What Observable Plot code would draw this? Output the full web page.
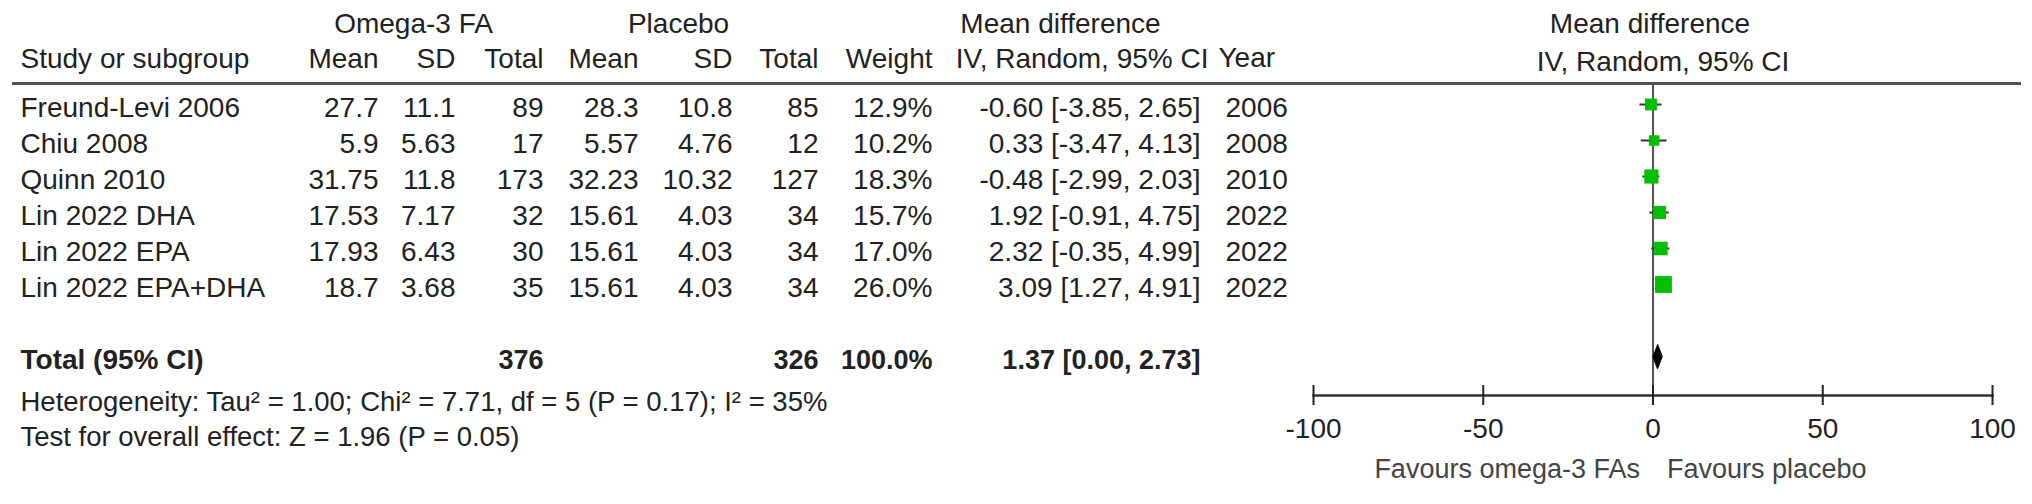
<!DOCTYPE html>
<html>
<head>
<meta charset="utf-8">
<script src="https://cdn.jsdelivr.net/npm/d3@7"></script>
<script src="https://cdn.jsdelivr.net/npm/@observablehq/plot@0.6"></script>
<style>
  html, body { margin: 0; padding: 0; background: #fff; }
  #chart { width: 2032px; height: 504px; }
</style>
</head>
<body>
<div id="chart"></div>
<script>
// ---------------- data ----------------
const studies      = ["Freund-Levi 2006", "Chiu 2008", "Quinn 2010", "Lin 2022 DHA", "Lin 2022 EPA", "Lin 2022 EPA+DHA"];
const years        = [2006, 2008, 2010, 2022, 2022, 2022];
const omegaMean    = [27.7, 5.9, 31.75, 17.53, 17.93, 18.7];
const omegaSD      = [11.1, 5.63, 11.8, 7.17, 6.43, 3.68];
const omegaN       = [89, 17, 173, 32, 30, 35];
const placeboMean  = [28.3, 5.57, 32.23, 15.61, 15.61, 15.61];
const placeboSD    = [10.8, 4.76, 10.32, 4.03, 4.03, 4.03];
const placeboN     = [85, 12, 127, 34, 34, 34];
const weights      = [12.9, 10.2, 18.3, 15.7, 17.0, 26.0];
const meanDiff     = [-0.60, 0.33, -0.48, 1.92, 2.32, 3.09];
const ciLow        = [-3.85, -3.47, -2.99, -0.91, -0.35, 1.27];
const ciHigh       = [2.65, 4.13, 2.03, 4.75, 4.99, 4.91];

const totalLabel   = "Total (95% CI)";
const totalOmegaN  = 376;
const totalPlaceboN = 326;
const totalWeight  = 100.0;
const totalMD      = 1.37;
const totalLow     = 0.00;
const totalHigh    = 2.73;

const xTicks = [-100, -50, 0, 50, 100];

const groupHeaders = ["Omega-3 FA", "Placebo", "Mean difference"];
const colHeaders = ["Study or subgroup", "Mean", "SD", "Total", "Mean", "SD", "Total", "Weight", "IV, Random, 95% CI", "Year"];
const plotHeaders = ["Mean difference", "IV, Random, 95% CI"];
const heterogeneityText = "Heterogeneity: Tau² = 1.00; Chi² = 7.71, df = 5 (P = 0.17); I² = 35%";
const overallText = "Test for overall effect: Z = 1.96 (P = 0.05)";
const favoursLeft = "Favours omega-3 FAs";
const favoursRight = "Favours placebo";

// ---------------- tables built from the arrays ----------------
const fmtCI = (m, lo, hi) => `${m.toFixed(2)} [${lo.toFixed(2)}, ${hi.toFixed(2)}]`;
const rows = studies.map((s, i) => ({
  study: s,
  year: String(years[i]),
  m1: String(omegaMean[i]), sd1: String(omegaSD[i]), n1: String(omegaN[i]),
  m2: String(placeboMean[i]), sd2: String(placeboSD[i]), n2: String(placeboN[i]),
  w: weights[i], wText: weights[i].toFixed(1) + "%",
  md: meanDiff[i], lo: ciLow[i], hi: ciHigh[i],
  ci: fmtCI(meanDiff[i], ciLow[i], ciHigh[i])
}));
const totalRow = [{
  study: totalLabel, n1: String(totalOmegaN), n2: String(totalPlaceboN),
  wText: totalWeight.toFixed(1) + "%", ci: fmtCI(totalMD, totalLow, totalHigh)
}];
const diamondPts = [totalLow, totalMD, totalHigh].map(v => ({study: totalLabel, x: v}));
const yDomain = [...studies, "", totalLabel];

// ---------------- layout (pixels) ----------------
const W = 2032, H = 504;
const ML = 13, MR = 13, MT = 83, MB = 109;
const FONT = "'Liberation Sans', Arial, Helvetica, sans-serif";
const INK = "#222";
const FS = 28;
const col = {name: 20, m1: 378, sd1: 455, n1: 543, m2: 638, sd2: 732, n2: 818, w: 932, ci: 1200, year: 1225};
const hdr = {name: 20, m1: 378, sd1: 455, n1: 543, m2: 638, sd2: 732, n2: 818, w: 932, ci: 1208, year: 1218};
const grp = [413, 678, 1060];
const xRange = [1313, 1992];
const markDy = -4;
const ROW1 = -59, ROW2 = -24;

// custom curve: draws a diamond through (low, est, high)
function diamondCurve(h) {
  return (context) => {
    let pts = [];
    return {
      areaStart() {}, areaEnd() {},
      lineStart() { pts = []; },
      point(x, y) { pts.push([+x, +y]); },
      lineEnd() {
        if (pts.length < 3) return;
        const [x0, y0] = pts[0], [xm] = pts[1], [x1] = pts[pts.length - 1];
        context.moveTo(x0, y0);
        context.lineTo(xm, y0 - h);
        context.lineTo(x1, y0);
        context.lineTo(xm, y0 + h);
        context.closePath();
      }
    };
  };
}

const colText = (data, field, right, extra = {}) =>
  Plot.text(data, {y: "study", text: field, frameAnchor: "left", lineAnchor: "middle", dx: right - ML, textAnchor: "end", fill: INK, fontSize: FS, ...extra});

const headerText = (label, pos, dy, anchor) =>
  Plot.text([label], {text: d => d, frameAnchor: "top-left", lineAnchor: "middle", dx: pos - ML, dy, textAnchor: anchor, fill: INK, fontSize: FS});

const marks = [
  // header line and zero line
  Plot.frame({anchor: "top", stroke: "#505050", strokeWidth: 3}),
  Plot.ruleX([0], {stroke: "#555", strokeWidth: 2}),
  // axis line + ticks + labels
  Plot.frame({anchor: "bottom", insetLeft: xRange[0] - ML, insetRight: (W - MR) - xRange[1], stroke: "#333", strokeWidth: 2.5}),
  Plot.axisX(xTicks, {anchor: "bottom", tickSize: 20, dy: -10, tickPadding: 13, label: null,
    tickFormat: d => String(d), color: INK, strokeWidth: 2, fontSize: FS}),

  // group headers
  headerText(groupHeaders[0], grp[0], ROW1, "middle"),
  headerText(groupHeaders[1], grp[1], ROW1, "middle"),
  headerText(groupHeaders[2], grp[2], ROW1, "middle"),
  // column headers
  headerText(colHeaders[0], hdr.name, ROW2, "start"),
  headerText(colHeaders[1], hdr.m1, ROW2, "end"),
  headerText(colHeaders[2], hdr.sd1, ROW2, "end"),
  headerText(colHeaders[3], hdr.n1, ROW2, "end"),
  headerText(colHeaders[4], hdr.m2, ROW2, "end"),
  headerText(colHeaders[5], hdr.sd2, ROW2, "end"),
  headerText(colHeaders[6], hdr.n2, ROW2, "end"),
  headerText(colHeaders[7], hdr.w, ROW2, "end"),
  headerText(colHeaders[8], hdr.ci, ROW2, "end"),
  headerText(colHeaders[9], hdr.year, ROW2 - 1, "start"),
  // plot headers (centred on the null line)
  Plot.text([plotHeaders[0]], {text: d => d, x: () => 0, frameAnchor: "top", lineAnchor: "middle", dx: -3, dy: ROW1, textAnchor: "middle", fill: INK, fontSize: FS}),
  Plot.text([plotHeaders[1]], {text: d => d, x: () => 0, frameAnchor: "top", lineAnchor: "middle", dx: 10, dy: ROW2 + 3, textAnchor: "middle", fill: INK, fontSize: FS}),

  // study rows
  colText(rows, "study", col.name, {textAnchor: "start"}),
  colText(rows, "m1", col.m1),
  colText(rows, "sd1", col.sd1),
  colText(rows, "n1", col.n1),
  colText(rows, "m2", col.m2),
  colText(rows, "sd2", col.sd2),
  colText(rows, "n2", col.n2),
  colText(rows, "wText", col.w),
  colText(rows, "ci", col.ci),
  colText(rows, "year", col.year, {textAnchor: "start"}),

  // total row
  colText(totalRow, "study", col.name, {textAnchor: "start", fontWeight: "bold", fontSize: 28}),
  colText(totalRow, "n1", col.n1, {fontWeight: "bold", fontSize: 27}),
  colText(totalRow, "n2", col.n2, {fontWeight: "bold", fontSize: 27}),
  colText(totalRow, "wText", col.w, {fontWeight: "bold", fontSize: 27}),
  colText(totalRow, "ci", col.ci, {fontWeight: "bold", fontSize: 27}),

  // footers
  Plot.text([heterogeneityText], {text: d => d, frameAnchor: "bottom-left", lineAnchor: "middle", dx: 20 - ML, dy: 7, textAnchor: "start", fill: INK, fontSize: 27.5}),
  Plot.text([overallText], {text: d => d, frameAnchor: "bottom-left", lineAnchor: "middle", dx: 20 - ML, dy: 42, textAnchor: "start", fill: INK, fontSize: 27.5}),
  Plot.text([favoursLeft], {text: d => d, x: () => 0, frameAnchor: "bottom", lineAnchor: "middle", dx: -13, dy: 74, textAnchor: "end", fill: "#444", fontSize: 27}),
  Plot.text([favoursRight], {text: d => d, x: () => 0, frameAnchor: "bottom", lineAnchor: "middle", dx: 14, dy: 74, textAnchor: "start", fill: "#444", fontSize: 27}),

  // forest marks
  Plot.ruleY(rows, {y: "study", x1: "lo", x2: "hi", stroke: "#333", strokeWidth: 2, dy: markDy}),
  Plot.dot(rows, {x: "md", y: "study", r: "w", symbol: "square", fill: "#00c000", stroke: "none", dy: markDy}),
  Plot.line(diamondPts, {x: "x", y: "study", curve: diamondCurve(12), fill: "#000", stroke: "#000", strokeWidth: 1, dy: markDy})
];

const chart = Plot.plot({
  width: W,
  height: H,
  marginLeft: ML,
  marginRight: MR,
  marginTop: MT,
  marginBottom: MB,
  style: {fontFamily: FONT, fontSize: FS + "px", color: INK, background: "#fff"},
  x: {domain: [-100, 100], range: xRange},
  y: {type: "point", domain: yDomain, range: [108, 360], padding: 0, axis: null},
  r: {type: "sqrt", domain: [0, 26], range: [0, 9.5]},
  marks
});
document.getElementById("chart").appendChild(chart);
</script>
</body>
</html>
